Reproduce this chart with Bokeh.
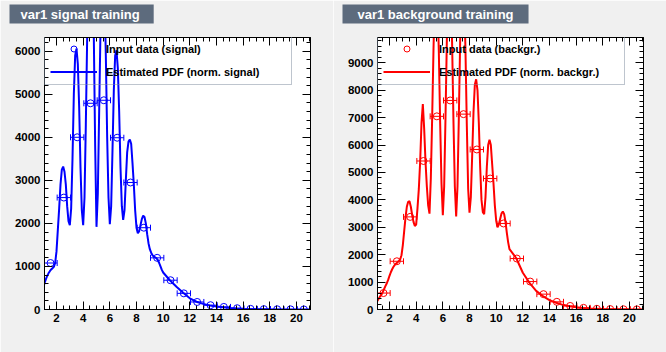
from bokeh.plotting import figure
from bokeh.models import (Range1d, SingleIntervalTicker, LinearAxis, Legend, LegendItem,
                          ColumnDataSource, Whisker, TeeHead, CustomLabelingPolicy, Title)
from bokeh.layouts import row
from bokeh.embed import file_html
from bokeh.resources import INLINE

# ---------------- data ----------------
bin_edges = [1.05, 2.05, 3.05, 4.05, 5.05, 6.05, 7.05, 8.05, 9.05, 10.05, 11.05,
             12.05, 13.05, 14.05, 15.05, 16.05, 17.05, 18.05, 19.05, 20.05, 21.05]

sig_counts = [1080, 2600, 4000, 4790, 4860, 3990, 2950, 1900, 1200, 680,
              375, 175, 100, 60, 30, 15, 8, 5, 3, 2]
bkg_counts = [600, 1760, 3380, 5420, 7050, 7630, 7130, 5840, 4780, 3140,
              1860, 1020, 560, 280, 130, 60, 25, 15, 8, 5]

sig_pdf_x = [1.05, 1.1, 1.2, 1.3, 1.4, 1.5, 1.6, 1.7, 1.8, 1.9,
             2.0, 2.1, 2.2, 2.3, 2.4, 2.5, 2.6, 2.7, 2.8, 2.9,
             3.0, 3.1, 3.2, 3.3, 3.4, 3.5, 3.6, 3.7, 3.8, 3.9,
             4.0, 4.1, 4.2, 4.3, 4.4, 4.5, 4.6, 4.7, 4.8, 4.9,
             5.0, 5.1, 5.2, 5.3, 5.4, 5.5, 5.6, 5.7, 5.8, 5.9,
             6.0, 6.1, 6.2, 6.3, 6.4, 6.5, 6.6, 6.7, 6.8, 6.9,
             7.0, 7.1, 7.2, 7.3, 7.4, 7.5, 7.6, 7.7, 7.8, 7.9,
             8.0, 8.1, 8.2, 8.3, 8.4, 8.5, 8.6, 8.7, 8.8, 8.9,
             9.0, 9.1, 9.2, 9.3, 9.4, 9.5, 9.6, 9.7, 9.8, 9.9,
             10.0, 10.5, 11.0, 11.5, 12.0, 12.5, 13.0, 13.5, 14.0, 14.5,
             15.0, 15.5, 16.0, 17.0, 18.0, 19.0, 20.0, 21.05]
sig_pdf_y = [560, 610, 700, 780, 840, 890, 930, 960, 990, 1080,
             1350, 1850, 2350, 2900, 3250, 3320, 3200, 2900, 2400, 2050,
             1960, 2350, 3500, 5000, 5900, 6060, 5700, 4700, 3300, 2300,
             1960, 2600, 4300, 6300, 7400, 7700, 7700, 7300, 6300, 3800,
             1920, 2700, 4600, 6500, 7600, 7800, 7300, 5900, 4000, 2600,
             1980, 2400, 3700, 5100, 5900, 6020, 5600, 4600, 3300, 2400,
             2080, 2300, 3000, 3650, 3900, 3950, 3850, 3400, 2900, 2300,
             1900, 1770, 1820, 1960, 2100, 2180, 2150, 2000, 1750, 1540,
             1400, 1320, 1260, 1230, 1210, 1190, 1150, 1080, 1000, 920,
             860, 680, 530, 390, 260, 180, 130, 95, 70, 50,
             35, 22, 14, 7, 4, 2, 1, 0]

bkg_pdf_x = [1.05, 1.1, 1.2, 1.3, 1.4, 1.5, 1.6, 1.7, 1.8, 1.9,
             2.0, 2.1, 2.2, 2.3, 2.4, 2.5, 2.6, 2.7, 2.8, 2.9,
             3.0, 3.1, 3.2, 3.3, 3.4, 3.5, 3.6, 3.7, 3.8, 3.9,
             4.0, 4.1, 4.2, 4.3, 4.4, 4.5, 4.6, 4.7, 4.8, 4.9,
             5.0, 5.1, 5.2, 5.3, 5.4, 5.5, 5.6, 5.7, 5.8, 5.9,
             6.0, 6.1, 6.2, 6.3, 6.4, 6.5, 6.6, 6.7, 6.8, 6.9,
             7.0, 7.1, 7.2, 7.3, 7.4, 7.5, 7.6, 7.7, 7.8, 7.9,
             8.0, 8.1, 8.2, 8.3, 8.4, 8.5, 8.6, 8.7, 8.8, 8.9,
             9.0, 9.1, 9.2, 9.3, 9.4, 9.5, 9.6, 9.7, 9.8, 9.9,
             10.0, 10.1, 10.2, 10.3, 10.4, 10.5, 10.6, 10.7, 10.8, 10.9,
             11.0, 11.5, 12.0, 12.5, 13.0, 13.5, 14.0, 14.5, 15.0, 15.5,
             16.0, 16.5, 17.0, 18.0, 19.0, 20.0, 21.05]
bkg_pdf_y = [280, 320, 400, 480, 550, 640, 750, 860, 960, 1080,
             1230, 1360, 1470, 1560, 1630, 1680, 1720, 1770, 1830, 1980,
             2350, 2850, 3350, 3750, 3930, 3950, 3750, 3450, 3200, 3050,
             3100, 3700, 4400, 5400, 6800, 7500, 6600, 5400, 4500, 3800,
             3500, 4800, 7000, 9500, 11500, 12000, 11300, 9400, 6800, 4600,
             3440, 4500, 7000, 9800, 12000, 12500, 11800, 9600, 6800, 4500,
             3400, 4500, 7000, 9800, 11800, 12200, 11500, 9400, 6700, 4400,
             3530, 4100, 5600, 7200, 8200, 8400, 8000, 6800, 5200, 4000,
             3550, 3480, 4100, 5200, 6000, 6200, 6000, 5300, 4600, 3800,
             3250, 3000, 3100, 3300, 3500, 3580, 3480, 3200, 2800, 2450,
             2200, 1880, 1340, 970, 680, 490, 340, 245, 170, 115,
             80, 55, 40, 20, 10, 5, 2]

titles = ["var1 signal training", "var1 background training"]
legend_data_labels = ["Input data (signal)", "Input data (backgr.)"]
legend_pdf_labels = ["Estimated PDF (norm. signal)", "Estimated PDF (norm. backgr.)"]
y_maxes = [6318, 9927]
x_limits = (1.1, 21.05)

FONT = "Liberation Sans"

NO_LABELS = CustomLabelingPolicy(code="""
    const all = [...indices]
    for (const i of all) indices.unset(i)
    return indices
""")


def make_panel(title, counts, pdf_x, pdf_y, color, ymax, lab_data, lab_pdf, title_pad):
    p = figure(width=333, height=352, x_range=Range1d(*x_limits), y_range=Range1d(0, ymax),
               output_backend="svg", toolbar_location=None, title=None,
               x_axis_type=None, y_axis_type=None,
               min_border_left=44, min_border_right=23, min_border_top=37, min_border_bottom=43)
    p.background_fill_color = "white"
    p.border_fill_color = "#f0f0f0"
    p.outline_line_color = "black"
    p.outline_line_width = 1

    xt = SingleIntervalTicker(interval=2, num_minor_ticks=4)
    yt = SingleIntervalTicker(interval=1000, num_minor_ticks=5)
    for loc, tk in [("below", xt), ("above", xt), ("left", yt), ("right", yt)]:
        ax = LinearAxis(ticker=tk)
        ax.axis_line_color = "black"
        ax.major_tick_in = 8
        ax.major_tick_out = 0
        ax.minor_tick_in = 4
        ax.minor_tick_out = 0
        ax.major_tick_line_color = "black"
        ax.minor_tick_line_color = "black"
        if loc in ("below", "left"):
            ax.major_label_text_font = FONT
            ax.major_label_text_font_style = "bold"
            ax.major_label_text_font_size = "11.5px"
            ax.major_label_text_color = "black"
            ax.major_label_standoff = 4
        else:
            ax.major_label_text_font_size = "2px"
            ax.major_label_standoff = 9 if loc == "above" else 0
            ax.major_label_policy = NO_LABELS
        p.add_layout(ax, loc)

    centers = [(bin_edges[i] + bin_edges[i + 1]) / 2 for i in range(len(counts))]
    src = ColumnDataSource(dict(x=centers, y=counts,
                                xlo=bin_edges[:-1], xhi=bin_edges[1:]))

    r_line = p.line(pdf_x, pdf_y, line_color=color, line_width=2)

    wh = Whisker(source=src, base="y", lower="xlo", upper="xhi", dimension="width",
                 line_color=color, line_width=1,
                 lower_head=TeeHead(size=6, line_color=color, line_width=1),
                 upper_head=TeeHead(size=6, line_color=color, line_width=1))
    p.add_layout(wh)
    r_pts = p.scatter("x", "y", source=src, marker="circle", size=7,
                      fill_color=None, line_color=color, line_width=1)

    legend = Legend(items=[LegendItem(label=lab_data, renderers=[r_pts]),
                           LegendItem(label=lab_pdf, renderers=[r_line])],
                    location=(0, 224))
    legend.border_line_color = "#7d8b9d"
    legend.border_line_width = 1
    legend.background_fill_alpha = 0
    legend.padding = 5
    legend.spacing = 8
    legend.margin = 0
    legend.glyph_width = 47
    legend.glyph_height = 15
    legend.label_height = 15
    legend.label_width = 180
    legend.label_standoff = 9
    legend.label_text_font = FONT
    legend.label_text_font_style = "bold"
    legend.label_text_font_size = "11px"
    legend.label_text_color = "black"
    p.add_layout(legend)

    t = Title(text=title, align="left", offset=-35, standoff=2,
              text_font=FONT, text_font_style="bold", text_font_size="13px",
              text_color="white", background_fill_color="#5d6b7d",
              padding=title_pad)
    p.add_layout(t, "above")
    return p


# title padding: (left, right, top, bottom)
p1 = make_panel(titles[0], sig_counts, sig_pdf_x, sig_pdf_y, "#0000ff", y_maxes[0],
                legend_data_labels[0], legend_pdf_labels[0], (11, 14, 2, 2))
p2 = make_panel(titles[1], bkg_counts, bkg_pdf_x, bkg_pdf_y, "#ff0000", y_maxes[1],
                legend_data_labels[1], legend_pdf_labels[1], (15, 15, 2, 2))

layout = row(p1, p2, spacing=0)
open("out.html", "w").write(file_html(layout, INLINE))
